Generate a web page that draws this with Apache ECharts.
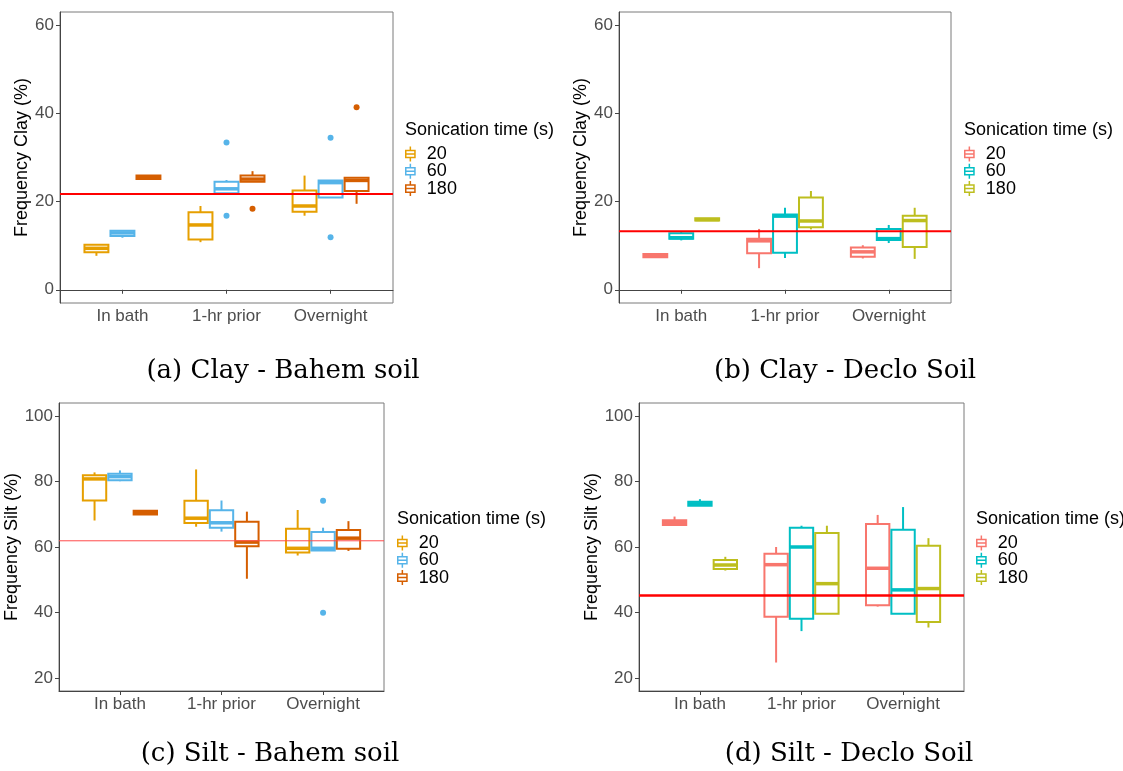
<!DOCTYPE html>
<html>
<head>
<meta charset="utf-8">
<title>Particle size frequency by sonication time</title>
<script src="https://cdn.jsdelivr.net/npm/echarts@6/dist/echarts.min.js"></script>
<style>
  html, body { margin: 0; padding: 0; background: #fff; }
  #chart { width: 1123px; height: 771px; }
</style>
</head>
<body>
<div id="chart"></div>
<script>
const categories = ['In bath', '1-hr prior', 'Overnight'];
const sonicationTimes = ['20', '60', '180'];

// Box summaries per category: [lower whisker, Q1, median, Q3, upper whisker]
const clayBahem20 = [[7.7, 8.5, 9.4, 10.2, 10.3], [10.8, 11.4, 14.7, 17.6, 19.0], [16.8, 17.7, 19.0, 22.5, 25.9]];
const clayBahem60 = [[11.8, 12.2, 12.9, 13.4, 13.4], [21.9, 21.9, 22.9, 24.5, 24.9], [20.9, 20.9, 24.3, 24.8, 24.9]];
const clayBahem180 = [[25.1, 25.1, 25.5, 25.9, 25.9], [24.5, 24.5, 25.1, 25.9, 26.9], [19.5, 22.4, 24.8, 25.4, 25.4]];
// Outliers: [category index, value]
const clayBahem20Out = [];
const clayBahem60Out = [[1, 33.4], [1, 16.8], [2, 34.5], [2, 11.9]];
const clayBahem180Out = [[1, 18.4], [2, 41.4]];
const clayBahemMean = 21.7;

const clayDeclo20 = [[7.4, 7.4, 7.7, 8.1, 8.2], [4.9, 8.3, 11.1, 11.6, 13.8], [7.1, 7.5, 8.6, 9.6, 10.1]];
const clayDeclo60 = [[11.2, 11.6, 11.8, 12.8, 13.1], [7.2, 8.4, 16.7, 17.1, 18.6], [10.6, 11.3, 11.6, 13.8, 14.7]];
const clayDeclo180 = [[15.7, 15.7, 15.9, 16.2, 16.2], [13.7, 14.2, 15.6, 20.9, 22.4], [7.0, 9.7, 15.7, 16.8, 18.6]];
const clayDecloMean = 13.3;

const siltBahem20 = [[68.1, 74.2, 80.8, 81.9, 82.8], [66.2, 67.3, 68.8, 74.1, 83.7], [57.4, 58.3, 59.6, 65.6, 71.3]];
const siltBahem60 = [[80.1, 80.4, 81.5, 82.4, 83.4], [64.7, 65.9, 67.4, 71.2, 74.2], [58.9, 58.9, 59.6, 64.6, 65.9]];
const siltBahem180 = [[69.9, 69.9, 70.5, 71.1, 71.1], [50.3, 60.2, 61.5, 67.7, 70.8], [58.8, 59.5, 62.7, 65.2, 67.9]];
const siltBahem60Out = [[2, 74.1], [2, 39.9]];
const siltBahemMean = 61.9;

const siltDeclo20 = [[66.7, 66.7, 67.5, 68.2, 69.3], [24.7, 38.7, 54.6, 57.9, 60.0], [41.8, 42.2, 53.5, 67.0, 69.8]];
const siltDeclo60 = [[72.6, 72.6, 73.2, 73.8, 74.6], [34.3, 38.1, 60.0, 65.9, 66.5], [39.6, 39.6, 46.9, 65.3, 72.2]];
const siltDeclo180 = [[52.8, 53.3, 54.5, 56.0, 57.0], [39.6, 39.6, 48.8, 64.3, 66.5], [35.4, 37.1, 47.3, 60.4, 62.7]];
const siltDecloMean = 45.2;

const clayTicks = [0, 20, 40, 60];
const siltTicks = [20, 40, 60, 80, 100];

// ---- styling / layout ----
const bahemColors = ['#E69F00', '#56B4E9', '#D55E00'];
const decloColors = ['#F8766D', '#00BFC4', '#BDBE1E'];
const X_MIN = 0.4, X_MAX = 3.6;
const DODGE = 0.25, HALF_BOX = 0.115;
const SANS = 'Liberation Sans, Arial, sans-serif';
const SERIF = 'DejaVu Serif, serif';

const panels = [
  { grid: { left: 60, top: 12, width: 333, height: 291 }, yMin: -3, yMax: 63, ticks: clayTicks,
    yName: 'Frequency Clay (%)', nameGap: 27, colors: bahemColors,
    boxes: [clayBahem20, clayBahem60, clayBahem180], outliers: [clayBahem20Out, clayBahem60Out, clayBahem180Out],
    mean: clayBahemMean, meanStyle: { color: '#FF0000', width: 2 },
    caption: '(a) Clay - Bahem soil', capX: 283, capY: 371, legX: 405, legY: 130 },
  { grid: { left: 619, top: 12, width: 332, height: 291 }, yMin: -3, yMax: 63, ticks: clayTicks,
    yName: 'Frequency Clay (%)', nameGap: 26, colors: decloColors,
    boxes: [clayDeclo20, clayDeclo60, clayDeclo180], outliers: [[], [], []],
    mean: clayDecloMean, meanStyle: { color: '#FF0000', width: 2 },
    caption: '(b) Clay - Declo Soil', capX: 845, capY: 371, legX: 964, legY: 130 },
  { grid: { left: 59, top: 403, width: 325, height: 288 }, yMin: 16, yMax: 104, ticks: siltTicks,
    yName: 'Frequency Silt (%)', nameGap: 36, colors: bahemColors,
    boxes: [siltBahem20, siltBahem60, siltBahem180], outliers: [[], siltBahem60Out, []],
    mean: siltBahemMean, meanStyle: { color: '#FF4A4A', width: 1 },
    caption: '(c) Silt - Bahem soil', capX: 270, capY: 754, legX: 397, legY: 519 },
  { grid: { left: 639, top: 403, width: 325, height: 288 }, yMin: 16, yMax: 104, ticks: siltTicks,
    yName: 'Frequency Silt (%)', nameGap: 36, colors: decloColors,
    boxes: [siltDeclo20, siltDeclo60, siltDeclo180], outliers: [[], [], []],
    mean: siltDecloMean, meanStyle: { color: '#FF0000', width: 2.5 },
    caption: '(d) Silt - Declo Soil', capX: 849, capY: 754, legX: 976, legY: 519 }
];

// Boxplot key glyph: box outline, median bar and whisker stems
const boxIcon = 'path://M0,3H10V4.4H0Z M0,9.6H10V11H0Z M0,3H1.4V11H0Z M8.6,3H10V11H8.6Z M0,6.3H10V7.7H0Z M4.3,0H5.7V3H4.3Z M4.3,11H5.7V14H4.3Z';

function boxRenderer(color, offset) {
  return function (params, api) {
    const cx = api.value(0) + offset;
    const px = api.coord([cx, api.value(3)])[0];
    const yLo = api.coord([cx, api.value(1)])[1];
    const yQ1 = api.coord([cx, api.value(2)])[1];
    const yMed = api.coord([cx, api.value(3)])[1];
    const yQ3 = api.coord([cx, api.value(4)])[1];
    const yHi = api.coord([cx, api.value(5)])[1];
    const hw = api.size([HALF_BOX, 0])[0];
    const stroke = { stroke: color, lineWidth: 2, fill: null };
    return {
      type: 'group',
      children: [
        { type: 'line', shape: { x1: px, y1: yHi, x2: px, y2: yQ3 }, style: stroke },
        { type: 'line', shape: { x1: px, y1: yQ1, x2: px, y2: yLo }, style: stroke },
        { type: 'rect', shape: { x: px - hw, y: yQ3, width: 2 * hw, height: Math.max(yQ1 - yQ3, 0.5) }, style: stroke },
        { type: 'line', shape: { x1: px - hw, y1: yMed, x2: px + hw, y2: yMed }, style: { stroke: color, lineWidth: 3.5 } }
      ]
    };
  };
}

function outlierRenderer(color, offset) {
  return function (params, api) {
    const p = api.coord([api.value(0) + offset, api.value(1)]);
    return { type: 'circle', shape: { cx: p[0], cy: p[1], r: 3 }, style: { fill: color } };
  };
}

const grids = [], xAxes = [], yAxes = [], series = [], legends = [], graphics = [];

panels.forEach((pn, i) => {
  grids.push(Object.assign({ show: true, borderColor: '#7a7a7a', borderWidth: 1, backgroundColor: 'transparent' }, pn.grid));
  xAxes.push({
    type: 'value', gridIndex: i, min: X_MIN, max: X_MAX,
    splitLine: { show: false },
    axisLine: { show: true, lineStyle: { color: '#444', width: 1 } },
    axisTick: { show: true, customValues: [1, 2, 3], length: 4, lineStyle: { color: '#444' } },
    axisLabel: { customValues: [1, 2, 3], formatter: v => categories[Math.round(v) - 1],
      color: '#4D4D4D', fontSize: 17, fontFamily: SANS, margin: 5 }
  });
  yAxes.push({
    type: 'value', gridIndex: i, min: pn.yMin, max: pn.yMax,
    splitLine: { show: false },
    axisLine: { show: true, lineStyle: { color: '#444', width: 1 } },
    axisTick: { show: true, customValues: pn.ticks, length: 4, lineStyle: { color: '#444' } },
    axisLabel: { customValues: pn.ticks, color: '#4D4D4D', fontSize: 17, fontFamily: SANS, margin: 6 },
    name: pn.yName, nameLocation: 'middle', nameRotate: 90, nameGap: pn.nameGap,
    nameTextStyle: { color: '#000', fontSize: 18, fontFamily: SANS }
  });

  sonicationTimes.forEach((t, g) => {
    const offset = (g - 1) * DODGE;
    const color = pn.colors[g];
    series.push({
      type: 'custom', name: t, xAxisIndex: i, yAxisIndex: i, color: color,
      renderItem: boxRenderer(color, offset),
      data: pn.boxes[g].map((s, c) => [c + 1].concat(s)),
      encode: { x: 0, y: [1, 2, 3, 4, 5] },
      silent: true, z: 2
    });
    if (pn.outliers[g].length) {
      series.push({
        type: 'custom', name: t, xAxisIndex: i, yAxisIndex: i, color: color,
        renderItem: outlierRenderer(color, offset),
        data: pn.outliers[g].map(o => [o[0] + 1, o[1]]),
        encode: { x: 0, y: 1 },
        silent: true, z: 3
      });
    }
  });

  // overall mean reference line across the panel
  series.push({
    type: 'line', xAxisIndex: i, yAxisIndex: i, silent: true, z: 5,
    showSymbol: false, symbol: 'none',
    data: [[X_MIN, pn.mean], [X_MAX, pn.mean]],
    lineStyle: { color: pn.meanStyle.color, width: pn.meanStyle.width }
  });

  legends.push({
    orient: 'vertical', left: pn.legX, top: pn.legY + 15, padding: 0,
    selectedMode: false, itemWidth: 11, itemHeight: 15, itemGap: -0.7,
    icon: boxIcon,
    textStyle: { color: '#000', fontSize: 18, lineHeight: 15, fontFamily: SANS, padding: [0, 0, 0, 6] },
    data: sonicationTimes.map((t, g) => ({ name: t, icon: boxIcon, itemStyle: { color: pn.colors[g], borderWidth: 0 } }))
  });

  graphics.push({
    type: 'text', x: pn.legX, y: pn.legY,
    style: { text: 'Sonication time (s)', font: '18px ' + SANS, fill: '#000', textVerticalAlign: 'middle' }
  });
  graphics.push({
    type: 'text', x: pn.capX, y: pn.capY,
    style: { text: pn.caption, font: '26px ' + SERIF, fill: '#000', textAlign: 'center', textVerticalAlign: 'middle' }
  });
});

const chart = echarts.init(document.getElementById('chart'), null, { renderer: 'canvas' });
chart.setOption({
  animation: false,
  backgroundColor: '#fff',
  grid: grids,
  xAxis: xAxes,
  yAxis: yAxes,
  legend: legends,
  graphic: graphics,
  series: series
});
</script>
</body>
</html>
